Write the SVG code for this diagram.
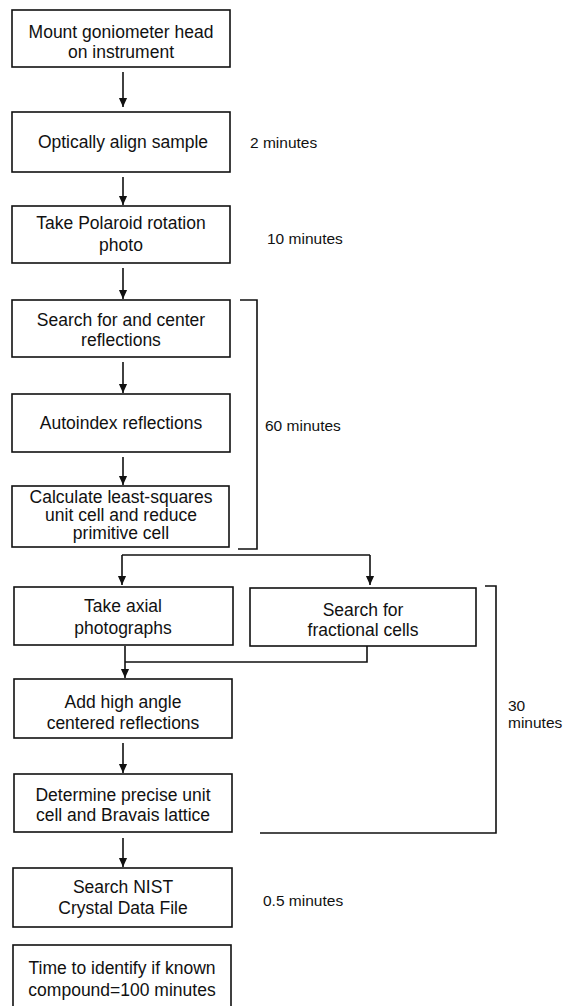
<svg xmlns="http://www.w3.org/2000/svg" width="568" height="1006" viewBox="0 0 568 1006">
<style>
.box{fill:#fff;stroke:#111;stroke-width:1.6}
.t{font-family:"Liberation Sans",Arial,sans-serif;font-size:17.5px;fill:#111;text-anchor:middle}
.lbl{font-family:"Liberation Sans",Arial,sans-serif;font-size:15.5px;fill:#111}
.c{fill:none;stroke:#111;stroke-width:1.6}
</style>
<defs>
<marker id="ah" markerUnits="userSpaceOnUse" markerWidth="10" markerHeight="12" refX="5" refY="11" orient="auto" viewBox="0 0 10 12">
<path d="M0,0 L10,0 L5,11 Z" fill="#111" transform="rotate(0)"/>
</marker>
<marker id="a" markerUnits="userSpaceOnUse" markerWidth="10" markerHeight="12" refX="11" refY="5" orient="auto" viewBox="0 0 12 10">
<path d="M0,0 L11,5 L0,10 Z" fill="#111"/>
</marker>
</defs>
<rect width="568" height="1006" fill="#fff"/>
<g id="connectors">
<path class="c" d="M123,72 V107" marker-end="url(#a)"/>
<path class="c" d="M123,177 V205" marker-end="url(#a)"/>
<path class="c" d="M123,268 V299" marker-end="url(#a)"/>
<path class="c" d="M123,362 V393" marker-end="url(#a)"/>
<path class="c" d="M123,457 V485" marker-end="url(#a)"/>
<path class="c" d="M122,555 H370"/>
<path class="c" d="M122,555 V585" marker-end="url(#a)"/>
<path class="c" d="M370,555 V585" marker-end="url(#a)"/>
<path class="c" d="M367,646 V662 H125"/>
<path class="c" d="M125,646 V678" marker-end="url(#a)"/>
<path class="c" d="M123,743 V773" marker-end="url(#a)"/>
<path class="c" d="M123,838 V867" marker-end="url(#a)"/>
</g>
<g id="brackets">
<path class="c" d="M240,300 H257 V549 H238"/>
<path class="c" d="M485,586 H496 V833 H260"/>
</g>
<g id="n1"><rect class="box" x="12" y="10" width="218" height="57"/><text class="t" x="121" y="38">Mount goniometer head</text><text class="t" x="121" y="58">on instrument</text></g>
<g id="n2"><rect class="box" x="12" y="112" width="218" height="60"/><text class="t" x="123" y="148">Optically align sample</text></g>
<g id="n3"><rect class="box" x="12" y="206" width="218" height="57"/><text class="t" x="121" y="229">Take Polaroid rotation</text><text class="t" x="121" y="251">photo</text></g>
<g id="n4"><rect class="box" x="12" y="300" width="218" height="57"/><text class="t" x="121" y="326">Search for and center</text><text class="t" x="121" y="346">reflections</text></g>
<g id="n5"><rect class="box" x="12" y="394" width="218" height="58"/><text class="t" x="121" y="429">Autoindex reflections</text></g>
<g id="n6"><rect class="box" x="12" y="486" width="217" height="61"/><text class="t" x="121" y="503">Calculate least-squares</text><text class="t" x="121" y="521">unit cell and reduce</text><text class="t" x="121" y="539">primitive cell</text></g>
<g id="n7"><rect class="box" x="14" y="587" width="219" height="58"/><text class="t" x="123" y="612">Take axial</text><text class="t" x="123" y="634">photographs</text></g>
<g id="n8"><rect class="box" x="250" y="588" width="226" height="58"/><text class="t" x="363" y="616">Search for</text><text class="t" x="363" y="636">fractional cells</text></g>
<g id="n9"><rect class="box" x="14" y="679" width="218" height="59"/><text class="t" x="123" y="708">Add high angle</text><text class="t" x="123" y="729">centered reflections</text></g>
<g id="n10"><rect class="box" x="14" y="774" width="218" height="58"/><text class="t" x="123" y="801">Determine precise unit</text><text class="t" x="123" y="821">cell and Bravais lattice</text></g>
<g id="n11"><rect class="box" x="13" y="868" width="219" height="59"/><text class="t" x="123" y="893">Search NIST</text><text class="t" x="123" y="914">Crystal Data File</text></g>
<g id="n12"><rect class="box" x="13" y="945" width="218" height="70"/><text class="t" x="122" y="974">Time to identify if known</text><text class="t" x="122" y="996">compound=100 minutes</text></g>
<g id="labels">
<text class="lbl" x="250" y="148">2 minutes</text>
<text class="lbl" x="267" y="244">10 minutes</text>
<text class="lbl" x="265" y="431">60 minutes</text>
<text class="lbl" x="508" y="711">30</text>
<text class="lbl" x="508" y="728">minutes</text>
<text class="lbl" x="263" y="906">0.5 minutes</text>
</g>
</svg>
